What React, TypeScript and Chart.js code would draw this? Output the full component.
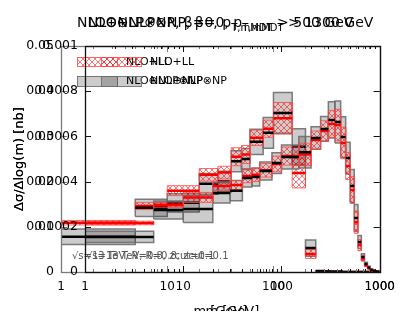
import React, { useEffect, useRef } from 'react';
import { Chart, registerables } from 'chart.js';

Chart.register(...registerables);
Chart.defaults.font.family = "'DejaVu Sans', sans-serif";

// ---------- shared data ----------
const massEdges = [1, 5, 10, 20, 30, 40, 50, 60, 80, 100, 150, 200, 250, 300, 350, 400, 450, 500, 550, 600, 650, 700, 750, 800, 850, 900, 950, 1000];
const xTickValues = [1, 10, 100, 1000];
const xTickLabels = ['1', '10', '100', '1000'];
const legendLabels = ['NLO+LL', 'NLO⊕NLP⊗NP'];
const xTitle = 'm [GeV]';
const yTitle = 'Δσ/Δlog(m) [nb]';
const noteText = '√s=13 TeV, R=0.8, zcut=0.1';

// ---------- panel A ----------
const titleA = ['NLO⊕NLP⊗NP, β=0, p', 'T,mMDT', ' > 500 GeV'];
const yTickValuesA = [0, 0.01, 0.02, 0.03, 0.04, 0.05];
const yTickLabelsA = ['0', '0.01', '0.02', '0.03', '0.04', '0.05'];
const npCenterA = [0.0078, 0.0142, 0.0153, 0.0195, 0.0200, 0.0245, 0.0250, 0.0288, 0.0308, 0.0352, 0.0277, 0.0053, 0.0002, 0.0001, 0.0001, 0.0001, 0, 0, 0, 0, 0, 0, 0, 0, 0, 0, 0];
const npErrA = [0.0017, 0.0019, 0.0020, 0.0023, 0.0023, 0.0023, 0.0023, 0.0028, 0.0034, 0.0045, 0.0040, 0.0018, 0.0001, 0.0001, 0, 0, 0, 0, 0, 0, 0, 0, 0, 0, 0, 0, 0];
const llCenterA = [0.0109, 0.0146, 0.0180, 0.0215, 0.0220, 0.0255, 0.0260, 0.0297, 0.0317, 0.0340, 0.0219, 0.0040, 0.0001, 0.0001, 0, 0, 0, 0, 0, 0, 0, 0, 0, 0, 0, 0, 0];
const llErrA = [0.0005, 0.0008, 0.0011, 0.0014, 0.0014, 0.0020, 0.0020, 0.0017, 0.0019, 0.0035, 0.0033, 0.0010, 0.0001, 0, 0, 0, 0, 0, 0, 0, 0, 0, 0, 0, 0, 0, 0];

// ---------- panel B ----------
const titleB = ['NLO⊕NLP⊗NP, β=0, p', 'T,mMDT', ' > 1300 GeV'];
const yTickValuesB = [0, 0.0002, 0.0004, 0.0006, 0.0008, 0.001];
const yTickLabelsB = ['0', '0.0002', '0.0004', '0.0006', '0.0008', '0.001'];
const npCenterB = [0.000155, 0.000274, 0.000279, 0.00035, 0.00036, 0.000416, 0.00042, 0.000447, 0.000482, 0.000509, 0.00053, 0.000593, 0.000633, 0.000673, 0.000664, 0.000597, 0.000504, 0.00038, 0.000239, 0.000133, 0.000066, 0.000035, 0.00002, 0.00001, 0.000005, 0.000002, 0.000001];
const npErrB = [0.000025, 0.00004, 0.00006, 0.000045, 0.000045, 0.00004, 0.00004, 0.00004, 0.000046, 0.000053, 0.00007, 0.00005, 0.000055, 0.00008, 0.000093, 0.00009, 0.00007, 0.000073, 0.00006, 0.000029, 0.000015, 0.000008, 0.000005, 0.000003, 0.000002, 0.000001, 0.000001];
const llCenterB = [0.000217, 0.000296, 0.00033, 0.00038, 0.000385, 0.000425, 0.00043, 0.00045, 0.000478, 0.000513, 0.00052, 0.000584, 0.000624, 0.000655, 0.00065, 0.000571, 0.000469, 0.000363, 0.000221, 0.000119, 0.00006, 0.00003, 0.000017, 0.000008, 0.000004, 0.000002, 0.000001];
const llErrB = [0.000008, 0.00001, 0.000022, 0.00002, 0.00002, 0.00003, 0.00003, 0.00003, 0.000035, 0.00004, 0.00005, 0.00004, 0.000045, 0.00006, 0.00007, 0.00007, 0.00006, 0.00006, 0.00005, 0.000025, 0.000012, 0.000006, 0.000004, 0.000002, 0.000001, 0.000001, 0.000001];

const W = 395;
const H = 311;

function makeHatch(): CanvasPattern | string {
  const c = document.createElement('canvas');
  c.width = 6;
  c.height = 6;
  const g = c.getContext('2d');
  if (!g) return 'rgba(255,0,0,0.2)';
  g.strokeStyle = 'rgba(255,0,0,0.55)';
  g.lineWidth = 1;
  g.beginPath();
  g.moveTo(0, 0);
  g.lineTo(6, 6);
  g.moveTo(6, 0);
  g.lineTo(0, 6);
  g.stroke();
  return g.createPattern(c, 'repeat') || 'rgba(255,0,0,0.2)';
}

function boxPoints(i: number, c: number, e: number) {
  const lo = massEdges[i];
  const hi = massEdges[i + 1];
  return [
    { x: lo, y: c - e },
    { x: lo, y: c + e },
    { x: hi, y: c + e },
    { x: hi, y: c - e },
    { x: lo, y: c - e },
  ];
}

function linePoints(i: number, c: number) {
  return [
    { x: massEdges[i], y: c },
    { x: massEdges[i + 1], y: c },
  ];
}

type PanelCfg = {
  title: string[];
  titleX: number;
  yTickValues: number[];
  yTickLabels: string[];
  npCenter: number[];
  npErr: number[];
  llCenter: number[];
  llErr: number[];
  axisWidth: number;
  frameColor: string;
  noteOffset: number;
};

function buildConfig(p: PanelCfg): any {
  const hatch = makeHatch();
  const datasets: any[] = [];
  p.npCenter.forEach((c, i) => {
    datasets.push({
      data: boxPoints(i, c, p.npErr[i]),
      showLine: true,
      fill: 'shape',
      backgroundColor: 'rgba(0,0,0,0.2)',
      borderColor: 'rgba(110,110,110,0.9)',
      borderWidth: 1.5,
      pointRadius: 0,
      order: 3,
    });
  });
  p.llCenter.forEach((c, i) => {
    datasets.push({
      data: boxPoints(i, c, p.llErr[i]),
      showLine: true,
      fill: 'shape',
      backgroundColor: hatch,
      borderColor: 'rgba(255,70,70,0.8)',
      borderWidth: 1,
      pointRadius: 0,
      order: 2,
    });
  });
  p.llCenter.forEach((c, i) => {
    datasets.push({
      data: linePoints(i, c),
      showLine: true,
      fill: false,
      borderColor: '#ff0000',
      borderWidth: 2.5,
      pointRadius: 0,
      order: 1,
    });
  });
  p.npCenter.forEach((c, i) => {
    datasets.push({
      data: linePoints(i, c),
      showLine: true,
      fill: false,
      borderColor: '#000000',
      borderWidth: 2.5,
      pointRadius: 0,
      order: 0,
    });
  });

  const framePlugin = {
    id: 'frameTicksLegend',
    afterDraw(chart: any) {
      const { ctx, chartArea: a, scales } = chart;
      const xs = scales.x;
      const ys = scales.y;
      ctx.save();
      ctx.strokeStyle = p.frameColor;
      ctx.lineWidth = 1;
      const seg = (x1: number, y1: number, x2: number, y2: number) => {
        ctx.beginPath();
        ctx.moveTo(x1, y1);
        ctx.lineTo(x2, y2);
        ctx.stroke();
      };
      // x ticks (inward, top & bottom)
      for (let d = 1; d < 1000; d *= 10) {
        for (let k = 1; k <= 9; k++) {
          const px = Math.round(xs.getPixelForValue(d * k)) + 0.5;
          const len = k === 1 ? 6 : 3;
          seg(px, a.bottom, px, a.bottom - len);
          seg(px, a.top, px, a.top + len);
        }
      }
      // y ticks (inward, left & right)
      p.yTickValues.forEach((v) => {
        const py = Math.round(ys.getPixelForValue(v)) + 0.5;
        seg(a.left, py, a.left + 6, py);
        seg(a.right, py, a.right - 6, py);
      });
      ctx.lineWidth = 1.3;
      ctx.strokeRect(Math.round(a.left) + 0.5, Math.round(a.top) + 0.5, Math.round(a.width), Math.round(a.height));

      // title with subscript
      ctx.fillStyle = '#000';
      ctx.textAlign = 'left';
      ctx.textBaseline = 'alphabetic';
      let tx = p.titleX;
      ctx.font = "14px 'DejaVu Sans'";
      ctx.fillText(p.title[0], tx, 19);
      tx += ctx.measureText(p.title[0]).width;
      ctx.font = "10px 'DejaVu Sans'";
      ctx.fillText(p.title[1], tx, 23);
      tx += ctx.measureText(p.title[1]).width;
      ctx.font = "14px 'DejaVu Sans'";
      ctx.fillText(p.title[2], tx, 19);

      // legend
      const bx = a.left + 16;
      const rows = [a.top + 11, a.top + 30];
      ctx.fillStyle = hatch as any;
      ctx.fillRect(bx, rows[0], 40, 9);
      ctx.strokeStyle = 'rgba(255,70,70,0.8)';
      ctx.lineWidth = 1;
      ctx.strokeRect(bx + 0.5, rows[0] + 0.5, 40, 9);
      ctx.fillStyle = 'rgba(0,0,0,0.2)';
      ctx.fillRect(bx, rows[1], 40, 10);
      ctx.strokeStyle = 'rgba(110,110,110,0.9)';
      ctx.strokeRect(bx + 0.5, rows[1] + 0.5, 40, 10);
      ctx.fillStyle = '#000';
      ctx.font = "11px 'DejaVu Sans'";
      ctx.textBaseline = 'middle';
      ctx.fillText(legendLabels[0], bx + 49, rows[0] + 5);
      ctx.fillText(legendLabels[1], bx + 49, rows[1] + 5);

      // note
      ctx.fillStyle = '#555';
      ctx.font = "10px 'DejaVu Sans'";
      ctx.fillText(noteText, a.left + p.noteOffset, a.bottom - 16);
      ctx.restore();
    },
  };

  return {
    type: 'scatter',
    data: { datasets },
    plugins: [framePlugin],
    options: {
      animation: false,
      responsive: false,
      events: [],
      layout: { padding: { left: 0, right: 16, top: 38, bottom: 0 } },
      plugins: {
        legend: { display: false },
        tooltip: { enabled: false },
        title: { display: false },
      },
      scales: {
        x: {
          type: 'logarithmic',
          min: 1,
          max: 1000,
          grid: { display: false, drawTicks: false },
          border: { display: false },
          afterBuildTicks: (s: any) => {
            s.ticks = xTickValues.map((v) => ({ value: v }));
          },
          afterFit: (s: any) => {
            s.height = 47;
          },
          ticks: {
            autoSkip: false,
            maxRotation: 0,
            color: '#000',
            font: { size: 12 },
            padding: 8,
            callback: (_v: any, i: number) => xTickLabels[i] ?? '',
          },
          title: { display: true, text: xTitle, color: '#000', font: { size: 13 }, padding: { top: 0, bottom: 0 } },
        },
        y: {
          type: 'linear',
          min: 0,
          max: p.yTickValues[p.yTickValues.length - 1],
          grid: { display: false, drawTicks: false },
          border: { display: false },
          afterBuildTicks: (s: any) => {
            s.ticks = p.yTickValues.map((v) => ({ value: v }));
          },
          afterFit: (s: any) => {
            s.width = p.axisWidth;
          },
          ticks: {
            autoSkip: false,
            color: '#000',
            font: { size: 12.5 },
            padding: 7,
            callback: (_v: any, i: number) => p.yTickLabels[i] ?? '',
          },
          title: { display: true, text: yTitle, color: '#000', font: { size: 13 }, padding: { top: 4, bottom: 0 } },
        },
      },
    },
  };
}

const panelA: PanelCfg = {
  title: titleA,
  titleX: 69,
  yTickValues: yTickValuesA,
  yTickLabels: yTickLabelsA,
  npCenter: npCenterA,
  npErr: npErrA,
  llCenter: llCenterA,
  llErr: llErrA,
  axisWidth: 53,
  frameColor: '#7a7a7a',
  noteOffset: 11,
};

const panelB: PanelCfg = {
  title: titleB,
  titleX: 80,
  yTickValues: yTickValuesB,
  yTickLabels: yTickLabelsB,
  npCenter: npCenterB,
  npErr: npErrB,
  llCenter: llCenterB,
  llErr: llErrB,
  axisWidth: 77,
  frameColor: '#111111',
  noteOffset: 1,
};

function Panel({ cfg }: { cfg: PanelCfg }) {
  const ref = useRef<HTMLCanvasElement | null>(null);
  useEffect(() => {
    if (!ref.current) return;
    const chart = new Chart(ref.current, buildConfig(cfg));
    return () => chart.destroy();
  }, [cfg]);
  return (
    <canvas
      ref={ref}
      width={W}
      height={H}
      style={{ position: 'absolute', left: 0, top: 0, width: W, height: H }}
    />
  );
}

export default function App() {
  return (
    <div style={{ position: 'relative', width: W, height: H, marginBottom: -8 }}>
      <Panel cfg={panelA} />
      <Panel cfg={panelB} />
    </div>
  );
}
